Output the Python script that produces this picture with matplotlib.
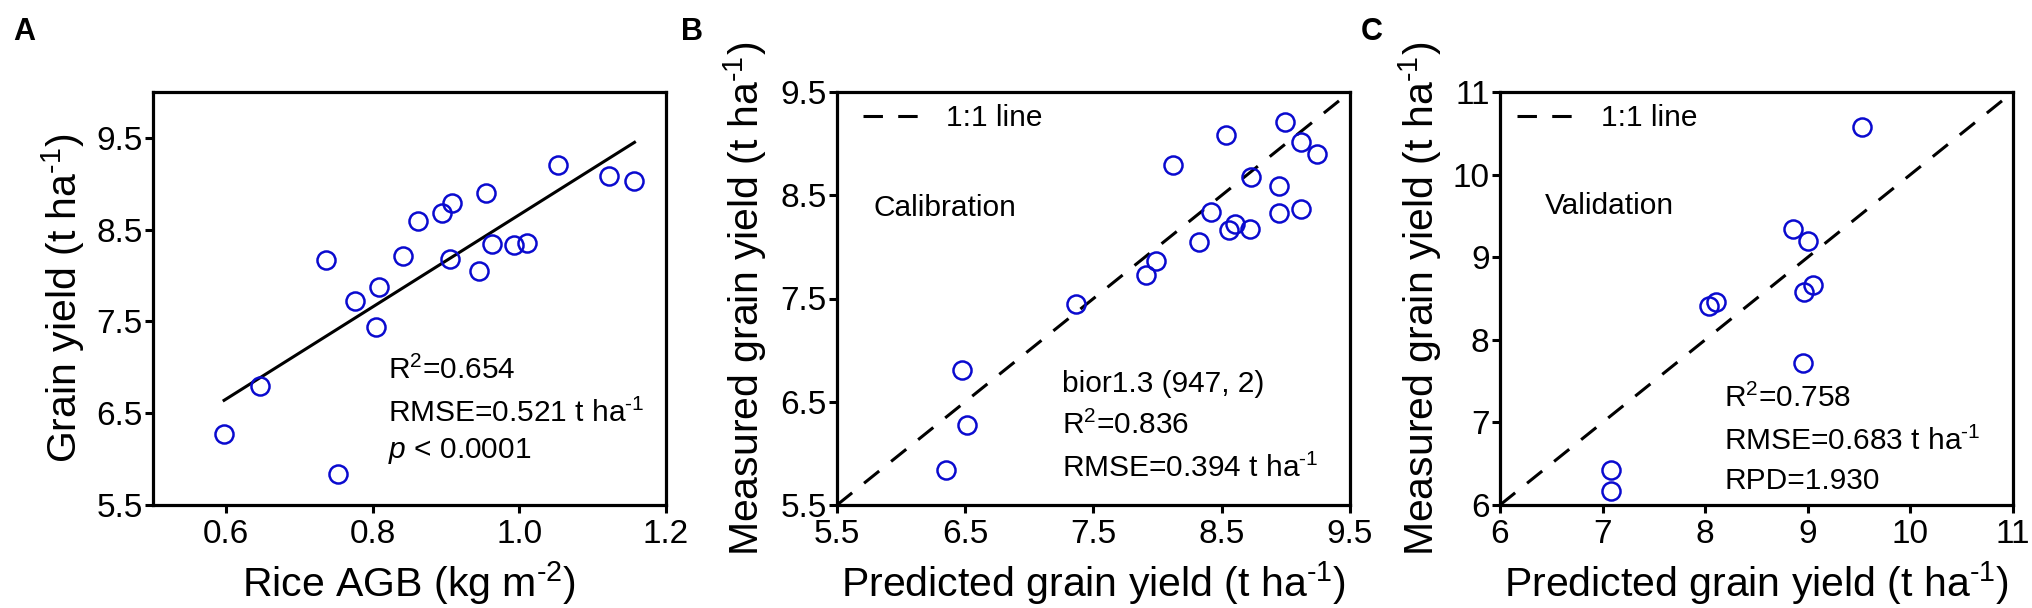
import numpy as np
import matplotlib
matplotlib.use("Agg")
import matplotlib.pyplot as plt

plt.rcParams['font.family'] = ['Liberation Sans', 'DejaVu Sans']
plt.rcParams['mathtext.fontset'] = 'custom'
plt.rcParams['mathtext.rm'] = 'Liberation Sans'
plt.rcParams['mathtext.it'] = 'Liberation Sans:italic'
plt.rcParams['mathtext.default'] = 'regular'
plt.rcParams['lines.scale_dashes'] = False

# ---- Panel A data: Rice AGB vs grain yield ----
agb = [0.597, 0.646, 0.752, 0.736, 0.776, 0.804, 0.808, 0.841, 0.862, 0.895,
       0.908, 0.905, 0.945, 0.954, 0.963, 0.992, 1.010, 1.052, 1.122, 1.157]
yield_a = [6.27, 6.80, 5.84, 8.17, 7.72, 7.44, 7.87, 8.21, 8.59, 8.68,
           8.79, 8.18, 8.05, 8.90, 8.34, 8.33, 8.36, 9.20, 9.08, 9.03]

# ---- Panel B data: calibration ----
pred_b = [6.353, 6.475, 6.516, 7.362, 7.906, 7.984, 8.117, 8.321, 8.419, 8.535,
          8.555, 8.603, 8.722, 8.729, 8.946, 8.943, 8.997, 9.119, 9.116, 9.242]
meas_b = [5.838, 6.803, 6.270, 7.442, 7.727, 7.862, 8.790, 8.043, 8.336, 9.087,
          8.167, 8.223, 8.174, 8.681, 8.591, 8.328, 9.211, 9.019, 8.362, 8.903]

# ---- Panel C data: validation ----
pred_c = [7.082, 7.082, 8.038, 8.109, 8.857, 9.003, 8.962, 9.053, 8.949, 9.530]
meas_c = [6.418, 6.174, 8.404, 8.460, 9.343, 9.197, 8.582, 8.667, 7.714, 10.573]

ticks_a_x = [0.6, 0.8, 1.0, 1.2]
ticks_a_y = [5.5, 6.5, 7.5, 8.5, 9.5]
ticks_b = [5.5, 6.5, 7.5, 8.5, 9.5]
ticks_c = [6, 7, 8, 9, 10, 11]

UNIT = 't ha$^{\\text{-1}}$'

W, H = 2033, 608
fig = plt.figure(figsize=(W / 100, H / 100), dpi=100)

def make_ax(left_px):
    return fig.add_axes([left_px / W, (H - 505) / H, 513 / W, 413 / H])

axA = make_ax(153)
axB = make_ax(837)
axC = make_ax(1500)

blue = '#0A0ACF'
tick_fs = 24
lab_fs = 29.5
ann_fs = 21.5

def style(ax):
    for s in ax.spines.values():
        s.set_linewidth(2.3)
    ax.tick_params(direction='out', length=6, width=2.2, labelsize=tick_fs)
    ax.tick_params(axis='x', pad=4)
    ax.tick_params(axis='y', pad=1.5)

def scatter(ax, x, y):
    ax.plot(x, y, linestyle='none', marker='o', ms=13, mew=1.8,
            mfc='none', mec=blue, zorder=3, clip_on=False)

# Panel A
style(axA)
scatter(axA, agb, yield_a)
coef = np.polyfit(agb, yield_a, 1)
xs = np.array([min(agb), max(agb)])
axA.plot(xs, np.polyval(coef, xs), color='black', lw=2.2, zorder=2)
axA.set_xlim(0.5, 1.2)
axA.set_ylim(5.5, 10.0)
axA.set_xticks(ticks_a_x)
axA.set_xticklabels([f'{t:.1f}' for t in ticks_a_x])
axA.set_yticks(ticks_a_y)
axA.set_yticklabels([f'{t:.1f}' for t in ticks_a_y])
axA.set_xlabel('Rice AGB (kg m$^{\\text{-2}}$)', fontsize=lab_fs, va='center')
axA.set_ylabel('Grain yield (' + UNIT + ')', fontsize=lab_fs, va='center')
axA.xaxis.set_label_coords(0.5, -0.19)
axA.yaxis.set_label_coords(-0.175, 0.5)
axA.text(0.458, 0.326, 'R$^{2}$=0.654', transform=axA.transAxes, fontsize=ann_fs, va='center')
axA.text(0.458, 0.222, 'RMSE=0.521 ' + UNIT, transform=axA.transAxes, fontsize=ann_fs, va='center')
axA.text(0.458, 0.130, '$\\it{p}$ < 0.0001', transform=axA.transAxes, fontsize=ann_fs, va='center')

# Panel B
style(axB)
scatter(axB, pred_b, meas_b)
axB.plot([5.5, 9.5], [5.5, 9.5], color='black', lw=2.2, dashes=(14, 11), label='1:1 line', zorder=2)
axB.set_xlim(5.5, 9.5)
axB.set_ylim(5.5, 9.5)
axB.set_xticks(ticks_b)
axB.set_yticks(ticks_b)
axB.set_xticklabels([f'{t:.1f}' for t in ticks_b])
axB.set_yticklabels([f'{t:.1f}' for t in ticks_b])
axB.set_xlabel('Predicted grain yield (' + UNIT + ')', fontsize=lab_fs, va='center')
axB.set_ylabel('Measured grain yield (' + UNIT + ')', fontsize=lab_fs, va='center')
axB.xaxis.set_label_coords(0.5, -0.19)
axB.yaxis.set_label_coords(-0.18, 0.5)
axB.legend(loc='upper left', bbox_to_anchor=(0.05, 0.97), frameon=False, fontsize=ann_fs,
           handlelength=1.9, handletextpad=0.9, borderaxespad=0, borderpad=0)
axB.text(0.071, 0.72, 'Calibration', transform=axB.transAxes, fontsize=ann_fs, va='center')
axB.text(0.439, 0.293, 'bior1.3 (947, 2)', transform=axB.transAxes, fontsize=ann_fs, va='center')
axB.text(0.439, 0.192, 'R$^{2}$=0.836', transform=axB.transAxes, fontsize=ann_fs, va='center')
axB.text(0.439, 0.088, 'RMSE=0.394 ' + UNIT, transform=axB.transAxes, fontsize=ann_fs, va='center')

# Panel C
style(axC)
scatter(axC, pred_c, meas_c)
axC.plot([6, 11], [6, 11], color='black', lw=2.2, dashes=(14, 11), label='1:1 line', zorder=2)
axC.set_xlim(6, 11)
axC.set_ylim(6, 11)
axC.set_xticks(ticks_c)
axC.set_yticks(ticks_c)
axC.set_xlabel('Predicted grain yield (' + UNIT + ')', fontsize=lab_fs, va='center')
axC.set_ylabel('Measured grain yield (' + UNIT + ')', fontsize=lab_fs, va='center')
axC.xaxis.set_label_coords(0.5, -0.19)
axC.yaxis.set_label_coords(-0.156, 0.5)
axC.legend(loc='upper left', bbox_to_anchor=(0.034, 0.97), frameon=False, fontsize=ann_fs,
           handlelength=1.9, handletextpad=0.9, borderaxespad=0, borderpad=0)
axC.text(0.088, 0.725, 'Validation', transform=axC.transAxes, fontsize=ann_fs, va='center')
axC.text(0.437, 0.258, 'R$^{2}$=0.758', transform=axC.transAxes, fontsize=ann_fs, va='center')
axC.text(0.437, 0.155, 'RMSE=0.683 ' + UNIT, transform=axC.transAxes, fontsize=ann_fs, va='center')
axC.text(0.437, 0.058, 'RPD=1.930', transform=axC.transAxes, fontsize=ann_fs, va='center')

# Panel letters
for lbl, xpx in [('A', 13), ('B', 681), ('C', 1361)]:
    fig.text(xpx / W, 1 - 17 / H, lbl, fontsize=22, fontweight='bold', va='top', ha='left')

fig.savefig('out.png', dpi=100)
